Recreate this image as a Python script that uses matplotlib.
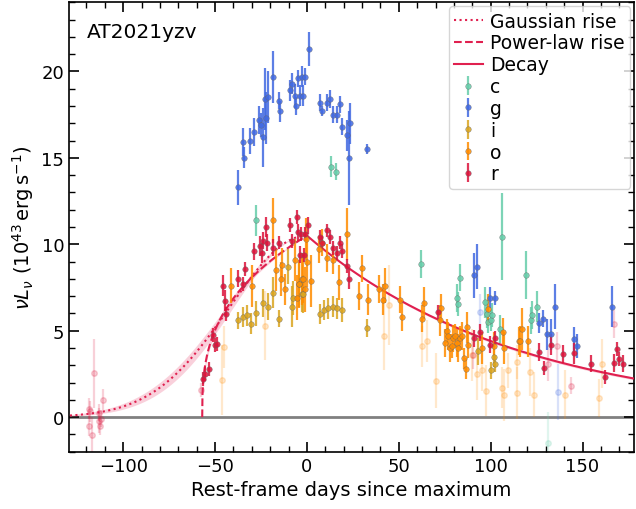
import numpy as np
import matplotlib.pyplot as plt
from matplotlib.ticker import MultipleLocator

# --- photometry (days since max, 1e43 erg/s) ---
c_t = [-27.8, 12.9, 15.8, 62.1, 81.5, 82.4, 83.3, 96.9, 97.8, 98.7, 100.1, 100.9,
       105.1, 106.3, 119.0, 121.9, 122.7, 125.0]
c_L = [11.4, 14.5, 14.2, 8.86, 6.88, 6.55, 8.07, 6.64, 5.97, 5.49, 5.6, 5.9,
       5.1, 10.44, 8.23, 5.6, 5.9, 6.4]
c_e = [0.9, 0.6, 0.5, 0.8, 0.8, 0.7, 0.8, 0.9, 0.8, 0.6, 0.6, 0.7,
       0.8, 2.5, 1.4, 0.8, 0.8, 0.9]

g_t = [-37.4, -34.7, -34.2, -31.0, -28.7, -26.2, -25.2, -23.8, -22.9, -22.3,
       -21.4, -18.3, -15.3, -14.4, -9.3, -8.3, -6.5, -6.0, -4.7, -3.8,
       -2.9, -2.3, -1.0, 1.1, 7.1, 8.0, 11.1, 12.5, 14.0, 16.5,
       18.0, 18.9, 21.9, 22.9, 23.4, 32.8, 90.9, 92.4, 99.7, 102.4,
       126.3, 128.7, 130.5, 132.8, 135.0, 145.3, 146.8, 166.2]
g_L = [13.3, 15.9, 15.0, 16.0, 16.5, 17.2, 16.9, 16.2, 18.4, 17.3,
       18.5, 19.7, 18.3, 17.7, 18.9, 19.3, 18.6, 18.0, 19.6, 18.6,
       19.7, 18.6, 19.7, 21.3, 18.2, 17.7, 18.2, 18.4, 17.5, 17.5,
       18.1, 16.8, 16.3, 15.0, 17.0, 15.5, 8.2, 8.7, 6.9, 6.9,
       5.45, 5.7, 4.8, 4.8, 6.4, 4.5, 4.1, 6.4]
g_e = [1.0, 0.8, 0.6, 0.75, 0.8, 0.8, 0.7, 1.7, 1.8, 1.5,
       1.5, 1.5, 0.5, 0.6, 0.6, 0.6, 0.7, 0.5, 0.5, 0.6,
       0.6, 0.6, 0.5, 1.0, 0.5, 0.3, 0.5, 0.5, 0.5, 0.5,
       0.5, 0.5, 0.9, 2.7, 1.2, 0.3, 1.3, 1.3, 0.6, 0.4,
       0.6, 0.5, 0.9, 0.9, 1.3, 0.7, 0.7, 1.2]

i_t = [-37.4, -34.7, -32.4, -30.2, -27.8, -23.8, -21.4, -18.3, -15.3, -10.2,
       -8.3, -7.5, -4.3, -2.9, -2.4, 7.1, 9.3, 11.6, 14.0, 16.5,
       18.9, 32.8, 93.0, 100.3, 101.6, 102.4]
i_L = [5.6, 5.8, 5.9, 5.4, 6.0, 6.6, 6.4, 7.2, 5.7, 8.7,
       6.4, 6.9, 7.7, 7.1, 7.1, 5.97, 6.2, 6.3, 6.4, 6.3,
       6.2, 5.16, 3.8, 2.7, 3.5, 3.1]
i_e = [0.5, 0.6, 0.6, 0.6, 0.7, 0.8, 0.8, 0.9, 0.5, 1.0,
       1.2, 1.0, 1.3, 1.0, 1.1, 0.6, 0.6, 0.6, 0.6, 0.6,
       0.7, 0.5, 0.8, 0.5, 0.6, 0.5]

o_t = [-41.1, -30.1, -18.3, -16.9, -14.2, -13.4, -12.0, -6.5, -5.6, -4.3,
       -2.9, -0.5, 0.2, -2.4, -1.1, 2.0, 6.5, 8.2, 11.1, 14.3,
       17.4, 21.9, 28.3, 29.8, 33.0, 39.2, 41.2, 42.5, 50.6, 51.5,
       62.8, 63.9, 72.4, 73.0, 75.1, 76.0, 76.9, 77.8, 78.7, 79.6,
       80.5, 81.5, 82.4, 83.3, 84.2, 85.7, 86.4, 87.0, 87.9, 95.5,
       98.8, 102.0, 106.5, 107.4, 115.4, 116.0, 117.2, 120.1]
o_L = [7.6, 7.6, 11.4, 8.5, 8.0, 8.8, 7.4, 9.1, 6.9, 7.7,
       8.0, 10.3, 9.0, 8.0, 7.4, 7.9, 9.7, 10.1, 9.2, 9.1,
       7.8, 10.6, 7.0, 8.6, 6.8, 7.4, 6.8, 7.6, 6.8, 5.8,
       5.7, 6.6, 5.6, 6.3, 4.3, 5.0, 4.7, 4.0, 4.1, 4.55,
       4.7, 4.3, 4.0, 4.6, 4.7, 3.4, 2.8, 5.2, 4.2, 4.0,
       6.25, 4.1, 4.95, 4.0, 4.4, 4.4, 5.1, 4.4]
o_e = [1.0, 1.2, 1.3, 1.2, 1.0, 1.0, 0.9, 1.2, 1.3, 1.4,
       1.5, 1.2, 1.5, 1.4, 1.3, 1.5, 0.8, 0.8, 0.8, 0.8,
       1.0, 1.5, 0.8, 0.8, 0.9, 0.8, 0.9, 1.0, 0.8, 0.8,
       0.8, 0.9, 0.9, 0.8, 0.8, 0.7, 0.8, 0.8, 0.7, 0.8,
       0.7, 0.8, 0.8, 0.7, 0.8, 0.6, 0.6, 0.9, 0.8, 0.9,
       0.9, 0.8, 0.8, 0.9, 0.8, 0.9, 1.2, 0.9]

r_t = [-56.4, -55.5, -53.3, -51.0, -50.1, -49.2, -45.6, -44.7, -43.8, -37.4,
       -35.0, -33.7, -28.7, -25.6, -24.7, -23.8, -22.5, -22.0, -18.3, -15.3,
       -9.3, -8.0, -5.6, -5.0, -3.8, -3.3, -1.0, -1.5, 0.7, 7.1,
       8.0, 10.7, 12.5, 14.3, 16.1, 18.0, 18.9, 21.9, 23.0, 71.5,
       90.9, 94.2, 99.7, 102.4, 126.5, 129.0, 132.8, 139.2, 145.3, 154.6,
       162.2, 167.3, 168.6, 169.9, 172.2]
r_L = [2.2, 2.5, 2.8, 4.76, 4.15, 4.25, 7.6, 6.74, 5.97, 8.0,
       7.7, 8.57, 9.6, 9.9, 9.5, 10.2, 11.0, 10.1, 9.8, 10.1,
       11.1, 10.2, 11.56, 10.7, 9.4, 10.6, 10.6, 9.4, 11.1, 10.4,
       10.1, 10.8, 10.4, 9.8, 9.5, 10.1, 9.6, 8.76, 8.0, 6.07,
       4.55, 4.9, 4.2, 4.6, 3.76, 2.84, 4.2, 3.65, 3.7, 3.1,
       2.3, 3.13, 3.94, 3.36, 3.1]
r_e = [0.4, 0.4, 0.4, 0.4, 0.4, 0.4, 0.6, 0.6, 0.4, 0.5,
       0.4, 0.4, 0.5, 0.6, 0.6, 0.5, 0.6, 0.5, 0.5, 0.4,
       0.4, 0.4, 0.4, 0.5, 0.5, 0.4, 0.4, 0.4, 0.5, 0.4,
       0.4, 0.4, 0.4, 0.4, 0.4, 0.4, 0.4, 0.4, 0.6, 0.4,
       0.5, 0.5, 0.5, 0.4, 0.5, 0.4, 0.6, 0.5, 0.6, 0.5,
       0.4, 0.5, 0.4, 0.4, 0.5]

# low-significance points (drawn faint)
r_faint_t = [-118.7, -118.8, -117.0, -115.7, -113.0, -112.6, -112.1, -110.8, -118.2, -113.4,
             -57.8, 90.6, 131.2, 136.0, 143.7, 166.9]
r_faint_L = [0.48, -0.52, -1.02, 2.54, -0.2, -0.52, -0.09, 1.0, 0.33, 0.25,
             1.55, 3.6, 3.1, 4.1, 1.81, 5.4]
r_faint_e = [0.6, 0.6, 1.0, 2.0, 0.7, 0.5, 0.5, 0.6, 0.6, 0.5,
             0.4, 0.8, 1.0, 0.8, 0.5, 0.8]
o_faint_t = [-46.5, -45.3, -22.9, 41.9, 44.6, 62.8, 65.1, 70.0, 89.7, 92.4, 95.2,
             97.3, 106.0, 107.3, 109.6, 114.2, 114.1, 121.4, 123.8, 140.4, 159.0, 160.8]
o_faint_L = [2.15, 4.05, 5.3, 4.7, 6.5, 4.1, 4.4, 2.1, 3.6, 2.5, 2.7,
             1.54, 1.7, 1.26, 2.7, 3.2, 1.4, 2.6, 1.3, 1.3, 1.1, 3.1]
o_faint_e = [2.0, 1.2, 2.0, 2.0, 2.3, 1.2, 1.2, 1.6, 1.5, 1.5, 1.2,
             1.5, 1.2, 1.5, 1.0, 1.0, 1.5, 1.4, 1.3, 1.4, 1.1, 1.4]
g_faint_t = [94.2, 136.4]
g_faint_L = [6.1, 1.45]
g_faint_e = [1.0, 1.6]
c_faint_t = [131.2]
c_faint_L = [-1.5]
c_faint_e = [1.8]

# model parameters (best fit and spread used for the shaded bands)
L_peak = 10.5
sigma_rise, sigma_err = 42.0, 2.0
t0_pl = -57.0
n_pl, n_err = 0.35, 0.02
tau_decay, tau_err = 115.0, 2.5

colors = {'c': '#66cdaa', 'g': '#4169e1', 'i': '#daa520', 'o': '#ff8c00', 'r': '#dc143c'}
line_col = '#e0204f'
band_col = '#f4a3b8'

plt.rcParams['font.family'] = 'DejaVu Sans'
fig = plt.figure(figsize=(6.36, 5.10), dpi=100)
ax = fig.add_axes([69 / 636, 57.3 / 510, 565 / 636, 449.4 / 510])

ax.axhline(0, color='gray', lw=2, zorder=1)

# models
def gauss(t, s):
    return L_peak * np.exp(-t ** 2 / (2 * s ** 2))

def powlaw(t, n):
    return L_peak * ((t - t0_pl) / (0 - t0_pl)) ** n

def decay(t, tau):
    return L_peak * np.exp(-t / tau)

tg = np.linspace(-135, 0, 300)
ax.fill_between(tg, gauss(tg, sigma_rise - sigma_err), gauss(tg, sigma_rise + sigma_err),
                color=band_col, alpha=0.5, lw=0, zorder=2)
ax.plot(tg, gauss(tg, sigma_rise), ':', color=line_col, lw=1.5, label='Gaussian rise', zorder=3)

tp = np.linspace(t0_pl, 0, 400)
ax.fill_between(tp, powlaw(tp, n_pl + n_err), powlaw(tp, n_pl - n_err),
                color=band_col, alpha=0.5, lw=0, zorder=2)
ax.plot(tp, powlaw(tp, n_pl), '--', color=line_col, lw=1.5, label='Power-law rise', zorder=3)

td = np.linspace(0, 185, 300)
ax.fill_between(td, decay(td, tau_decay - tau_err), decay(td, tau_decay + tau_err),
                color=band_col, alpha=0.5, lw=0, zorder=2)
ax.plot(td, decay(td, tau_decay), '-', color=line_col, lw=1.5, label='Decay', zorder=3)

faint = {'c': (c_faint_t, c_faint_L, c_faint_e), 'g': (g_faint_t, g_faint_L, g_faint_e),
         'o': (o_faint_t, o_faint_L, o_faint_e), 'r': (r_faint_t, r_faint_L, r_faint_e)}
for band, (t, L, e) in faint.items():
    ax.errorbar(t, L, yerr=e, fmt='o', ms=4, elinewidth=1.6, color=colors[band],
                alpha=0.2, zorder=2)

bands = {'c': (c_t, c_L, c_e), 'g': (g_t, g_L, g_e), 'i': (i_t, i_L, i_e),
         'o': (o_t, o_L, o_e), 'r': (r_t, r_L, r_e)}
for band, (t, L, e) in bands.items():
    ax.errorbar(t, L, yerr=e, fmt='o', ms=4, elinewidth=1.6, color=colors[band],
                mec='0.4', mew=0.3, alpha=0.85, label=band, zorder=4)

ax.set_xlim(-129.5, 178)
ax.set_ylim(-2, 24)
ax.xaxis.set_major_locator(MultipleLocator(50))
ax.xaxis.set_minor_locator(MultipleLocator(10))
ax.yaxis.set_major_locator(MultipleLocator(5))
ax.yaxis.set_minor_locator(MultipleLocator(1))
ax.tick_params(which='both', direction='in', top=True, right=True, labelsize=13)
ax.tick_params(which='major', length=7, width=1.2)
ax.tick_params(which='minor', length=4, width=1)
for s in ax.spines.values():
    s.set_linewidth(1.2)

ax.set_xlabel('Rest-frame days since maximum', fontsize=14)
ax.set_ylabel(r'$\nu L_\nu$ ($10^{43}\,\mathrm{erg\,s^{-1}}$)', fontsize=14)
ax.text(0.032, 0.935, 'AT2021yzv', transform=ax.transAxes, fontsize=14.5, va='center')

ax.legend(loc='upper right', fontsize=13.5, handlelength=1.5, handletextpad=0.4,
          labelspacing=0.15, borderaxespad=0.2, borderpad=0.3)

fig.savefig('out.png', dpi=100)
